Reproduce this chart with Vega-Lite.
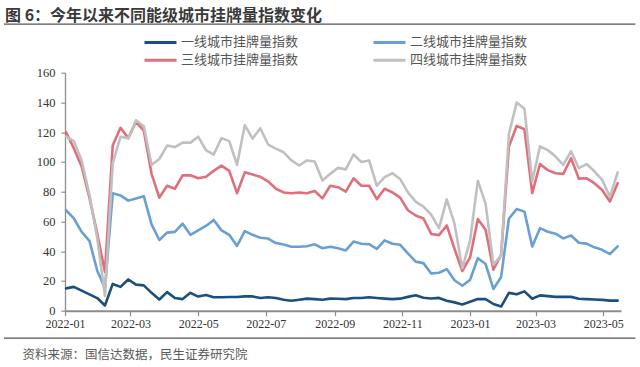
{
  "$schema": "https://vega.github.io/schema/vega-lite/v6.json",
  "width": 556,
  "height": 238,
  "autosize": {"type": "none"},
  "padding": {"left": 65, "top": 72.7, "right": 19, "bottom": 56.3},
  "background": "white",
  "config": {"view": {"stroke": null}},
  "title": {
    "text": "图 6：今年以来不同能级城市挂牌量指数变化",
    "anchor": "start",
    "frame": "group",
    "font": "Noto Sans CJK SC",
    "fontSize": 16,
    "fontWeight": "bold",
    "color": "#3a3a3a",
    "dx": -60,
    "dy": 5,
    "offset": 4
  },
  "datasets": {
    "weekly": [
      {"d": "2022-01-02", "一线城市挂牌量指数": 15, "二线城市挂牌量指数": 67.5, "三线城市挂牌量指数": 120, "四线城市挂牌量指数": 117},
      {"d": "2022-01-09", "一线城市挂牌量指数": 16, "二线城市挂牌量指数": 62, "三线城市挂牌量指数": 109, "四线城市挂牌量指数": 114},
      {"d": "2022-01-16", "一线城市挂牌量指数": 13.5, "二线城市挂牌量指数": 53, "三线城市挂牌量指数": 97, "四线城市挂牌量指数": 101},
      {"d": "2022-01-23", "一线城市挂牌量指数": 11, "二线城市挂牌量指数": 47, "三线城市挂牌量指数": 76, "四线城市挂牌量指数": 78},
      {"d": "2022-01-30", "一线城市挂牌量指数": 8.5, "二线城市挂牌量指数": 27, "三线城市挂牌量指数": 52, "四线城市挂牌量指数": 49},
      {"d": "2022-02-06", "一线城市挂牌量指数": 3.5, "二线城市挂牌量指数": 15, "三线城市挂牌量指数": 26, "四线城市挂牌量指数": 10},
      {"d": "2022-02-13", "一线城市挂牌量指数": 18, "二线城市挂牌量指数": 79, "三线城市挂牌量指数": 111, "四线城市挂牌量指数": 99},
      {"d": "2022-02-20", "一线城市挂牌量指数": 16, "二线城市挂牌量指数": 77.5, "三线城市挂牌量指数": 123, "四线城市挂牌量指数": 117},
      {"d": "2022-02-27", "一线城市挂牌量指数": 21, "二线城市挂牌量指数": 74, "三线城市挂牌量指数": 116, "四线城市挂牌量指数": 116},
      {"d": "2022-03-06", "一线城市挂牌量指数": 17.5, "二线城市挂牌量指数": 75.5, "三线城市挂牌量指数": 127, "四线城市挂牌量指数": 128},
      {"d": "2022-03-13", "一线城市挂牌量指数": 17, "二线城市挂牌量指数": 77, "三线城市挂牌量指数": 121, "四线城市挂牌量指数": 124},
      {"d": "2022-03-20", "一线城市挂牌量指数": 12, "二线城市挂牌量指数": 58, "三线城市挂牌量指数": 92, "四线城市挂牌量指数": 98},
      {"d": "2022-03-27", "一线城市挂牌量指数": 7.5, "二线城市挂牌量指数": 47.5, "三线城市挂牌量指数": 76, "四线城市挂牌量指数": 102},
      {"d": "2022-04-03", "一线城市挂牌量指数": 12.5, "二线城市挂牌量指数": 52.5, "三线城市挂牌量指数": 84, "四线城市挂牌量指数": 111},
      {"d": "2022-04-10", "一线城市挂牌量指数": 8.5, "二线城市挂牌量指数": 53, "三线城市挂牌量指数": 82, "四线城市挂牌量指数": 110},
      {"d": "2022-04-17", "一线城市挂牌量指数": 7.8, "二线城市挂牌量指数": 58.5, "三线城市挂牌量指数": 91, "四线城市挂牌量指数": 113},
      {"d": "2022-04-24", "一线城市挂牌量指数": 12, "二线城市挂牌量指数": 51, "三线城市挂牌量指数": 91, "四线城市挂牌量指数": 113},
      {"d": "2022-05-01", "一线城市挂牌量指数": 9.5, "二线城市挂牌量指数": 54, "三线城市挂牌量指数": 89, "四线城市挂牌量指数": 117},
      {"d": "2022-05-08", "一线城市挂牌量指数": 10.5, "二线城市挂牌量指数": 57, "三线城市挂牌量指数": 90, "四线城市挂牌量指数": 108},
      {"d": "2022-05-15", "一线城市挂牌量指数": 9, "二线城市挂牌量指数": 61, "三线城市挂牌量指数": 94, "四线城市挂牌量指数": 105},
      {"d": "2022-05-22", "一线城市挂牌量指数": 9, "二线城市挂牌量指数": 54, "三线城市挂牌量指数": 97.5, "四线城市挂牌量指数": 116},
      {"d": "2022-05-29", "一线城市挂牌量指数": 9.2, "二线城市挂牌量指数": 51, "三线城市挂牌量指数": 94, "四线城市挂牌量指数": 114},
      {"d": "2022-06-05", "一线城市挂牌量指数": 9.2, "二线城市挂牌量指数": 43.5, "三线城市挂牌量指数": 79, "四线城市挂牌量指数": 98},
      {"d": "2022-06-12", "一线城市挂牌量指数": 9.6, "二线城市挂牌量指数": 53.5, "三线城市挂牌量指数": 93, "四线城市挂牌量指数": 124.7},
      {"d": "2022-06-19", "一线城市挂牌量指数": 9.6, "二线城市挂牌量指数": 51, "三线城市挂牌量指数": 91.5, "四线城市挂牌量指数": 115.7},
      {"d": "2022-06-26", "一线城市挂牌量指数": 8.5, "二线城市挂牌量指数": 49, "三线城市挂牌量指数": 90, "四线城市挂牌量指数": 122.7},
      {"d": "2022-07-03", "一线城市挂牌量指数": 9, "二线城市挂牌量指数": 48.5, "三线城市挂牌量指数": 87, "四线城市挂牌量指数": 111.7},
      {"d": "2022-07-10", "一线城市挂牌量指数": 8.5, "二线城市挂牌量指数": 45.5, "三线城市挂牌量指数": 82, "四线城市挂牌量指数": 109},
      {"d": "2022-07-17", "一线城市挂牌量指数": 7.4, "二线城市挂牌量指数": 44.5, "三线城市挂牌量指数": 79.5, "四线城市挂牌量指数": 106.5},
      {"d": "2022-07-24", "一线城市挂牌量指数": 6.7, "二线城市挂牌量指数": 43, "三线城市挂牌量指数": 79, "四线城市挂牌量指数": 101},
      {"d": "2022-07-31", "一线城市挂牌量指数": 7.4, "二线城市挂牌量指数": 43, "三线城市挂牌量指数": 79.5, "四线城市挂牌量指数": 97.6},
      {"d": "2022-08-07", "一线城市挂牌量指数": 8.1, "二线城市挂牌量指数": 43.3, "三线城市挂牌量指数": 79, "四线城市挂牌量指数": 101},
      {"d": "2022-08-14", "一线城市挂牌量指数": 7.8, "二线城市挂牌量指数": 44.6, "三线城市挂牌量指数": 80.5, "四线城市挂牌量指数": 100.3},
      {"d": "2022-08-21", "一线城市挂牌量指数": 7.4, "二线城市挂牌量指数": 42, "三线城市挂牌量指数": 75.5, "四线城市挂牌量指数": 87.5},
      {"d": "2022-08-28", "一线城市挂牌量指数": 8.1, "二线城市挂牌量指数": 43, "三线城市挂牌量指数": 84, "四线城市挂牌量指数": 92},
      {"d": "2022-09-04", "一线城市挂牌量指数": 8, "二线城市挂牌量指数": 42, "三线城市挂牌量指数": 83, "四线城市挂牌量指数": 96},
      {"d": "2022-09-11", "一线城市挂牌量指数": 7.8, "二线城市挂牌量指数": 40.5, "三线城市挂牌量指数": 80, "四线城市挂牌量指数": 95},
      {"d": "2022-09-18", "一线城市挂牌量指数": 8.5, "二线城市挂牌量指数": 46.5, "三线城市挂牌量指数": 89, "四线城市挂牌量指数": 105},
      {"d": "2022-09-25", "一线城市挂牌量指数": 8.5, "二线城市挂牌量指数": 45, "三线城市挂牌量指数": 84, "四线城市挂牌量指数": 100},
      {"d": "2022-10-02", "一线城市挂牌量指数": 9, "二线城市挂牌量指数": 44.7, "三线城市挂牌量指数": 84, "四线城市挂牌量指数": 101},
      {"d": "2022-10-09", "一线城市挂牌量指数": 8.5, "二线城市挂牌量指数": 41.5, "三线城市挂牌量指数": 75, "四线城市挂牌量指数": 84},
      {"d": "2022-10-16", "一线城市挂牌量指数": 8.1, "二线城市挂牌量指数": 47.3, "三线城市挂牌量指数": 82, "四线城市挂牌量指数": 89.8},
      {"d": "2022-10-23", "一线城市挂牌量指数": 7.8, "二线城市挂牌量指数": 45, "三线城市挂牌量指数": 79.5, "四线城市挂牌量指数": 92.4},
      {"d": "2022-10-30", "一线城市挂牌量指数": 8.1, "二线城市挂牌量指数": 44.3, "三线城市挂牌量指数": 76, "四线城市挂牌量指数": 88.5},
      {"d": "2022-11-06", "一线城市挂牌量指数": 9.3, "二线城市挂牌量指数": 38.5, "三线城市挂牌量指数": 67.5, "四线城市挂牌量指数": 79.5},
      {"d": "2022-11-13", "一线城市挂牌量指数": 10.4, "二线城市挂牌量指数": 33, "三线城市挂牌量指数": 64, "四线城市挂牌量指数": 73.3},
      {"d": "2022-11-20", "一线城市挂牌量指数": 8.7, "二线城市挂牌量指数": 32, "三线城市挂牌量指数": 62, "四线城市挂牌量指数": 70},
      {"d": "2022-11-27", "一线城市挂牌量指数": 8.2, "二线城市挂牌量指数": 25, "三线城市挂牌量指数": 51.6, "四线城市挂牌量指数": 64.5},
      {"d": "2022-12-04", "一线城市挂牌量指数": 8.6, "二线城市挂牌量指数": 25.5, "三线城市挂牌量指数": 50.8, "四线城市挂牌量指数": 55.5},
      {"d": "2022-12-11", "一线城市挂牌量指数": 6.7, "二线城市挂牌量指数": 28, "三线城市挂牌量指数": 57.3, "四线城市挂牌量指数": 74.8},
      {"d": "2022-12-18", "一线城市挂牌量指数": 5.6, "二线城市挂牌量指数": 20.5, "三线城市挂牌量指数": 41.6, "四线城市挂牌量指数": 58.3},
      {"d": "2022-12-25", "一线城市挂牌量指数": 4.2, "二线城市挂牌量指数": 16.8, "三线城市挂牌量指数": 26.7, "四线城市挂牌量指数": 28.6},
      {"d": "2023-01-01", "一线城市挂牌量指数": 6, "二线城市挂牌量指数": 20.7, "三线城市挂牌量指数": 35.8, "四线城市挂牌量指数": 47},
      {"d": "2023-01-08", "一线城市挂牌量指数": 7.8, "二线城市挂牌量指数": 35.3, "三线城市挂牌量指数": 61.6, "四线城市挂牌量指数": 87.4},
      {"d": "2023-01-15", "一线城市挂牌量指数": 7.8, "二线城市挂牌量指数": 31.4, "三线城市挂牌量指数": 54.4, "四线城市挂牌量指数": 71.8},
      {"d": "2023-01-22", "一线城市挂牌量指数": 4.5, "二线城市挂牌量指数": 14.6, "三线城市挂牌量指数": 27.6, "四线城市挂牌量指数": 31},
      {"d": "2023-01-29", "一线城市挂牌量指数": 2.8, "二线城市挂牌量指数": 22.7, "三线城市挂牌量指数": 37.5, "四线城市挂牌量指数": 37},
      {"d": "2023-02-05", "一线城市挂牌量指数": 12, "二线城市挂牌量指数": 61.8, "三线城市挂牌量指数": 110.4, "四线城市挂牌量指数": 118.8},
      {"d": "2023-02-12", "一线城市挂牌量指数": 11, "二线城市挂牌量指数": 68.4, "三线城市挂牌量指数": 124.2, "四线城市挂牌量指数": 140},
      {"d": "2023-02-19", "一线城市挂牌量指数": 13, "二线城市挂牌量指数": 66.6, "三线城市挂牌量指数": 122, "四线城市挂牌量指数": 135.7},
      {"d": "2023-02-26", "一线城市挂牌量指数": 8, "二线城市挂牌量指数": 43.1, "三线城市挂牌量指数": 79, "四线城市挂牌量指数": 87},
      {"d": "2023-03-05", "一线城市挂牌量指数": 10.3, "二线城市挂牌量指数": 55.5, "三线城市挂牌量指数": 98.6, "四线城市挂牌量指数": 110.5},
      {"d": "2023-03-12", "一线城市挂牌量指数": 9.8, "二线城市挂牌量指数": 53.1, "三线城市挂牌量指数": 94.5, "四线城市挂牌量指数": 108},
      {"d": "2023-03-19", "一线城市挂牌量指数": 9.3, "二线城市挂牌量指数": 51.8, "三线城市挂牌量指数": 92.4, "四线城市挂牌量指数": 103.6},
      {"d": "2023-03-26", "一线城市挂牌量指数": 9.3, "二线城市挂牌量指数": 48.6, "三线城市挂牌量指数": 92, "四线城市挂牌量指数": 98},
      {"d": "2023-04-02", "一线城市挂牌量指数": 9.3, "二线城市挂牌量指数": 50.6, "三线城市挂牌量指数": 102.5, "四线城市挂牌量指数": 107.2},
      {"d": "2023-04-09", "一线城市挂牌量指数": 8, "二线城市挂牌量指数": 45.7, "三线城市挂牌量指数": 88.8, "四线城市挂牌量指数": 95.8},
      {"d": "2023-04-16", "一线城市挂牌量指数": 7.8, "二线城市挂牌量指数": 45.1, "三线城市挂牌量指数": 89, "四线城市挂牌量指数": 98.6},
      {"d": "2023-04-23", "一线城市挂牌量指数": 7.5, "二线城市挂牌量指数": 42.6, "三线城市挂牌量指数": 85.7, "四线城市挂牌量指数": 93.7},
      {"d": "2023-04-30", "一线城市挂牌量指数": 7.3, "二线城市挂牌量指数": 40.9, "三线城市挂牌量指数": 81.2, "四线城市挂牌量指数": 88},
      {"d": "2023-05-07", "一线城市挂牌量指数": 6.8, "二线城市挂牌量指数": 38.1, "三线城市挂牌量指数": 73.4, "四线城市挂牌量指数": 76.5},
      {"d": "2023-05-14", "一线城市挂牌量指数": 6.8, "二线城市挂牌量指数": 43.2, "三线城市挂牌量指数": 85.7, "四线城市挂牌量指数": 93}
    ],
    "separators": [
      {"value": 192.7},
      {"value": -18.4}
    ]
  },
  "layer": [
    {
      "data": {"name": "weekly"},
      "transform": [
        {"fold": ["一线城市挂牌量指数", "二线城市挂牌量指数", "三线城市挂牌量指数", "四线城市挂牌量指数"], "as": ["series", "value"]}
      ],
      "mark": {"type": "line", "strokeWidth": 2.6, "strokeJoin": "round", "strokeCap": "round"},
      "encoding": {
        "x": {
          "field": "d",
          "type": "temporal",
          "scale": {
            "type": "utc",
            "nice": false,
            "domain": [
              {"year": 2022, "month": 1, "date": 1, "utc": true},
              {"year": 2023, "month": 5, "date": 17, "utc": true}
            ]
          },
          "axis": {
            "title": "资料来源：国信达数据，民生证券研究院",
            "titleFont": "Noto Sans CJK SC",
            "titleFontSize": 12.5,
            "titleFontWeight": "normal",
            "titleColor": "#5a5a5a",
            "titleAnchor": "start",
            "titleAlign": "left",
            "titleBaseline": "middle",
            "titleX": -43,
            "titleY": 44,
            "format": "%Y-%m",
            "tickCount": {"interval": "month", "step": 2},
            "labelFont": "Liberation Serif, Times New Roman, serif",
            "labelFontSize": 12,
            "labelColor": "#333333",
            "labelPadding": 3,
            "labelOverlap": false,
            "labelFlush": false,
            "domainColor": "#8c8c8c",
            "domainWidth": 2,
            "tickColor": "#8c8c8c",
            "tickWidth": 1.2,
            "tickSize": 5,
            "grid": false
          }
        },
        "y": {
          "field": "value",
          "type": "quantitative",
          "title": null,
          "scale": {"domain": [0, 160], "nice": false, "zero": true},
          "axis": {
            "title": null,
            "values": [0, 20, 40, 60, 80, 100, 120, 140, 160],
            "labelOverlap": false,
            "labelFont": "Liberation Serif, Times New Roman, serif",
            "labelFontSize": 12.5,
            "labelColor": "#333333",
            "labelPadding": 6,
            "domainColor": "#8c8c8c",
            "domainWidth": 1.3,
            "tickColor": "#8c8c8c",
            "tickSize": 4,
            "tickWidth": 1.2,
            "grid": false
          }
        },
        "color": {
          "field": "series",
          "type": "nominal",
          "scale": {
            "domain": ["一线城市挂牌量指数", "二线城市挂牌量指数", "三线城市挂牌量指数", "四线城市挂牌量指数"],
            "range": ["#1b4f7f", "#6a9fd2", "#df6f7b", "#c0c0c0"]
          },
          "legend": {
            "orient": "none",
            "legendX": 78,
            "legendY": -37,
            "direction": "horizontal",
            "columns": 2,
            "columnPadding": 73,
            "rowPadding": 4,
            "clipHeight": 13,
            "title": null,
            "symbolType": "stroke",
            "symbolSize": 1024,
            "symbolStrokeWidth": 3,
            "labelFont": "Noto Sans CJK SC",
            "labelFontSize": 13,
            "labelColor": "#555555",
            "labelOffset": 3,
            "labelLimit": 0
          }
        }
      }
    },
    {
      "data": {"name": "separators"},
      "mark": {"type": "rule", "clip": false, "color": "#555555", "strokeWidth": 1.2},
      "encoding": {
        "y": {
          "field": "value",
          "type": "quantitative",
          "title": null,
          "scale": {"domain": [0, 160], "nice": false, "zero": true},
          "axis": {
            "title": null,
            "values": [0, 20, 40, 60, 80, 100, 120, 140, 160],
            "labelOverlap": false,
            "labelFont": "Liberation Serif, Times New Roman, serif",
            "labelFontSize": 12.5,
            "labelColor": "#333333",
            "labelPadding": 6,
            "domainColor": "#8c8c8c",
            "domainWidth": 1.3,
            "tickColor": "#8c8c8c",
            "tickSize": 4,
            "tickWidth": 1.2,
            "grid": false
          }
        },
        "x": {"datum": {"year": 2021, "month": 11, "date": 7, "utc": true}, "type": "temporal"},
        "x2": {"datum": {"year": 2023, "month": 5, "date": 30, "utc": true}}
      }
    }
  ]
}
